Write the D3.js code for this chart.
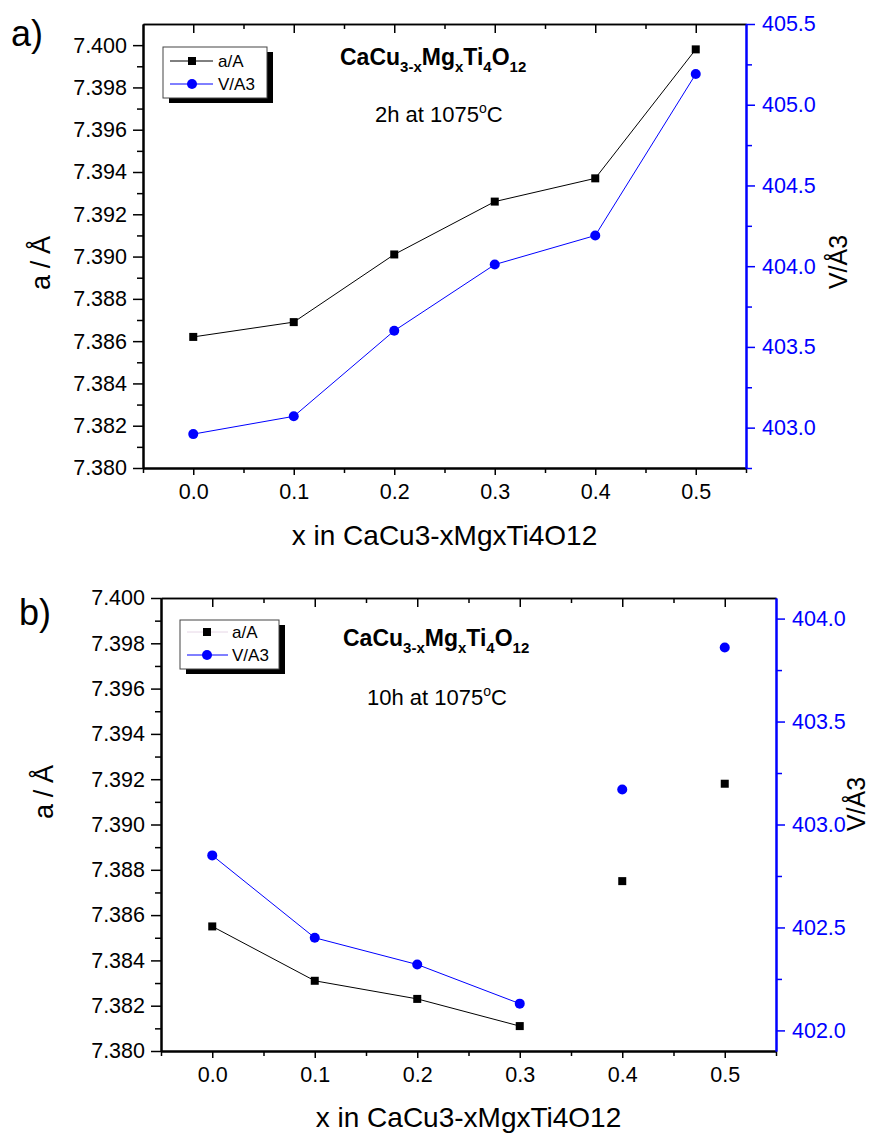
<!DOCTYPE html>
<meta charset="utf-8">
<script src="https://d3js.org/d3.v7.min.js"></script>
<style>
  body { margin: 0; background: #fff; }
  text { font-family: Arial, "Liberation Sans", sans-serif; }
</style>
<svg id="chart" width="884" height="1133"></svg>
<script>
  // data
  var xValues = [0.0, 0.1, 0.2, 0.3, 0.4, 0.5];
  // a) 2h at 1075 C
  var aValuesA = [7.3862, 7.3869, 7.3901, 7.3926, 7.3937, 7.3998];
  var vValuesA = [402.96, 403.07, 403.60, 404.01, 404.19, 405.19];
  // b) 10h at 1075 C (only the first 4 points are joined)
  var aValuesB = [7.3855, 7.3831, 7.3823, 7.3811, 7.3875, 7.3918];
  var vValuesB = [402.85, 402.45, 402.32, 402.13, 403.17, 403.86];
  var joinedB = 4;

  var legendLabels = ["a/A", "V/A3"];
  var xTicks = [0.0, 0.1, 0.2, 0.3, 0.4, 0.5];
  var xMinorTicks = [-0.05, 0.05, 0.15, 0.25, 0.35, 0.45, 0.55];
  var aTicks = [7.380, 7.382, 7.384, 7.386, 7.388, 7.390, 7.392, 7.394, 7.396, 7.398, 7.400];
  var aMinorTicks = [7.381, 7.383, 7.385, 7.387, 7.389, 7.391, 7.393, 7.395, 7.397, 7.399];
  var vTicksA = [403.0, 403.5, 404.0, 404.5, 405.0, 405.5];
  var vMinorTicksA = [402.75, 403.25, 403.75, 404.25, 404.75, 405.25];
  var vTicksB = [402.0, 402.5, 403.0, 403.5, 404.0];
  var vMinorTicksB = [402.25, 402.75, 403.25, 403.75];

  var svg = d3.select("#chart");
  var blue = "#0000ff";

  var panels = [
    { tag: "a)", tagX: 11, tagY: 46, left: 143, right: 746, top: 24, bottom: 468,
      aDomain: [7.380, 7.401], vDomain: [402.75, 405.5],
      a: aValuesA, v: vValuesA, joined: 6,
      vTicks: vTicksA, vMinor: vMinorTicksA, time: "2h at 1075",
      formulaX: 340, formulaY: 72, timeX: 375, timeY: 122,
      legend: { x: 163, y: 47, w: 104, h: 51, l0: 170, l1: 213, m: 192, t: 218, rows: [61, 84] },
      legendColors: ["#000", blue],
      xTitleY: 545, aTitle: [50, 263], vTitle: [847, 262] },
    { tag: "b)", tagX: 19, tagY: 625, left: 161, right: 776, top: 598, bottom: 1051,
      aDomain: [7.380, 7.400], vDomain: [401.9, 404.1],
      a: aValuesB, v: vValuesB, joined: joinedB,
      vTicks: vTicksB, vMinor: vMinorTicksB, time: "10h at 1075",
      formulaX: 343, formulaY: 653, timeX: 367, timeY: 705,
      legend: { x: 180, y: 620, w: 99, h: 49, l0: 187, l1: 228, m: 207, t: 232, rows: [632, 655] },
      legendColors: ["#e6d6e6", blue],
      xTitleY: 1127, aTitle: [53, 792], vTitle: [865, 804] }
  ];

  panels.forEach(function(p) {
    var x = d3.scaleLinear().domain([-0.05, 0.55]).range([p.left, p.right]);
    var ya = d3.scaleLinear().domain(p.aDomain).range([p.bottom, p.top]);
    var yv = d3.scaleLinear().domain(p.vDomain).range([p.bottom, p.top]);
    var g = svg.append("g");

    // axes
    function addAxis(axis, tx, ty, color, width) {
      var a = g.append("g").attr("transform", "translate(" + tx + "," + ty + ")").call(axis);
      a.select(".domain").attr("stroke", color).attr("stroke-width", width);
      a.selectAll(".tick line").attr("stroke", color).attr("stroke-width", 1.5);
      a.selectAll("text").attr("fill", color).style("font-size", "21.5px");
      return a;
    }

    var bx = addAxis(d3.axisBottom(x).tickValues(xTicks).tickSize(7).tickSizeOuter(0)
      .tickFormat(d3.format(".1f")), 0, p.bottom, "#000", 2);
    bx.selectAll("text").attr("y", 31).attr("dy", 0);
    addAxis(d3.axisBottom(x).tickValues(xMinorTicks).tickSize(5).tickSizeOuter(0)
      .tickFormat(""), 0, p.bottom, "#000", 2);

    addAxis(d3.axisBottom(x).tickValues(xTicks).tickSize(9).tickSizeOuter(0)
      .tickFormat(""), 0, p.top, "#000", 1.5);
    addAxis(d3.axisBottom(x).tickValues(xMinorTicks.filter(function(d) { return d > -0.05 && d < 0.55; }))
      .tickSize(5).tickSizeOuter(0).tickFormat(""), 0, p.top, "#000", 1.5);

    var ly = addAxis(d3.axisLeft(ya).tickValues(aTicks).tickSize(10).tickSizeOuter(0)
      .tickFormat(d3.format(".3f")), p.left, 0, "#000", 2);
    ly.selectAll("text").attr("x", -16);
    addAxis(d3.axisLeft(ya).tickValues(aMinorTicks).tickSize(6).tickSizeOuter(0)
      .tickFormat(""), p.left, 0, "#000", 2);

    var ry = addAxis(d3.axisRight(yv).tickValues(p.vTicks).tickSize(9).tickSizeOuter(0)
      .tickFormat(d3.format(".1f")), p.right, 0, blue, 2);
    ry.selectAll("text").attr("x", 16);
    addAxis(d3.axisRight(yv).tickValues(p.vMinor).tickSize(6).tickSizeOuter(0)
      .tickFormat(""), p.right, 0, blue, 2);

    // lines
    var pts = xValues.map(function(d, i) { return { x: d, a: p.a[i], v: p.v[i] }; });
    var lineA = d3.line().x(function(d) { return x(d.x); }).y(function(d) { return ya(d.a); });
    var lineV = d3.line().x(function(d) { return x(d.x); }).y(function(d) { return yv(d.v); });
    g.append("path").attr("d", lineA(pts.slice(0, p.joined)))
      .attr("fill", "none").attr("stroke", "#000").attr("stroke-width", 1);
    g.append("path").attr("d", lineV(pts.slice(0, p.joined)))
      .attr("fill", "none").attr("stroke", blue).attr("stroke-width", 1);

    g.selectAll(".sq").data(pts).enter().append("rect")
      .attr("x", function(d) { return x(d.x) - 4; })
      .attr("y", function(d) { return ya(d.a) - 4; })
      .attr("width", 8).attr("height", 8).attr("fill", "#000");
    g.selectAll(".dot").data(pts).enter().append("circle")
      .attr("cx", function(d) { return x(d.x); })
      .attr("cy", function(d) { return yv(d.v); })
      .attr("r", 5).attr("fill", blue);

    // legend
    var L = p.legend;
    g.append("rect").attr("x", L.x + 6).attr("y", L.y + 5).attr("width", L.w).attr("height", L.h).attr("fill", "#000");
    g.append("rect").attr("x", L.x).attr("y", L.y).attr("width", L.w).attr("height", L.h)
      .attr("fill", "#fff").attr("stroke", "#444").attr("stroke-width", 1);
    legendLabels.forEach(function(lab, i) {
      var yy = L.rows[i];
      g.append("line").attr("x1", L.l0).attr("x2", L.l1).attr("y1", yy).attr("y2", yy)
        .attr("stroke", p.legendColors[i]).attr("stroke-width", 1);
      if (i === 0) {
        g.append("rect").attr("x", L.m - 4).attr("y", yy - 4).attr("width", 8).attr("height", 8).attr("fill", "#000");
      } else {
        g.append("circle").attr("cx", L.m).attr("cy", yy).attr("r", 5).attr("fill", blue);
      }
      g.append("text").attr("x", L.t).attr("y", yy + 6).style("font-size", "17px").text(lab);
    });

    // annotation
    var f = g.append("text").attr("x", p.formulaX).attr("y", p.formulaY)
      .style("font-size", "23px").style("font-weight", "bold");
    [["CaCu", false], ["3-x", true], ["Mg", false], ["x", true], ["Ti", false], ["4", true], ["O", false], ["12", true]]
      .forEach(function(s) {
        f.append("tspan").attr("dy", s[1] ? 7 : (f.selectAll("tspan").size() ? -7 : 0))
          .style("font-size", s[1] ? "15px" : "23px").text(s[0]);
      });
    var t = g.append("text").attr("x", p.timeX).attr("y", p.timeY).style("font-size", "22px");
    t.append("tspan").text(p.time);
    t.append("tspan").attr("dy", -9).style("font-size", "14px").text("o");
    t.append("tspan").attr("dy", 9).text("C");

    // titles
    g.append("text").attr("x", (p.left + p.right) / 2).attr("y", p.xTitleY)
      .attr("text-anchor", "middle").style("font-size", "28px").text("x in CaCu3-xMgxTi4O12");
    g.append("text").attr("transform", "translate(" + p.aTitle[0] + "," + p.aTitle[1] + ") rotate(-90)")
      .attr("text-anchor", "middle").style("font-size", "27px")
      .attr("textLength", 54).attr("lengthAdjust", "spacing").text("a/Å");
    g.append("text").attr("transform", "translate(" + p.vTitle[0] + "," + p.vTitle[1] + ") rotate(-90)")
      .attr("text-anchor", "middle").style("font-size", "25px").text("V/Å3");
    g.append("text").attr("x", p.tagX).attr("y", p.tagY).style("font-size", "36px").text(p.tag);
  });
</script>
